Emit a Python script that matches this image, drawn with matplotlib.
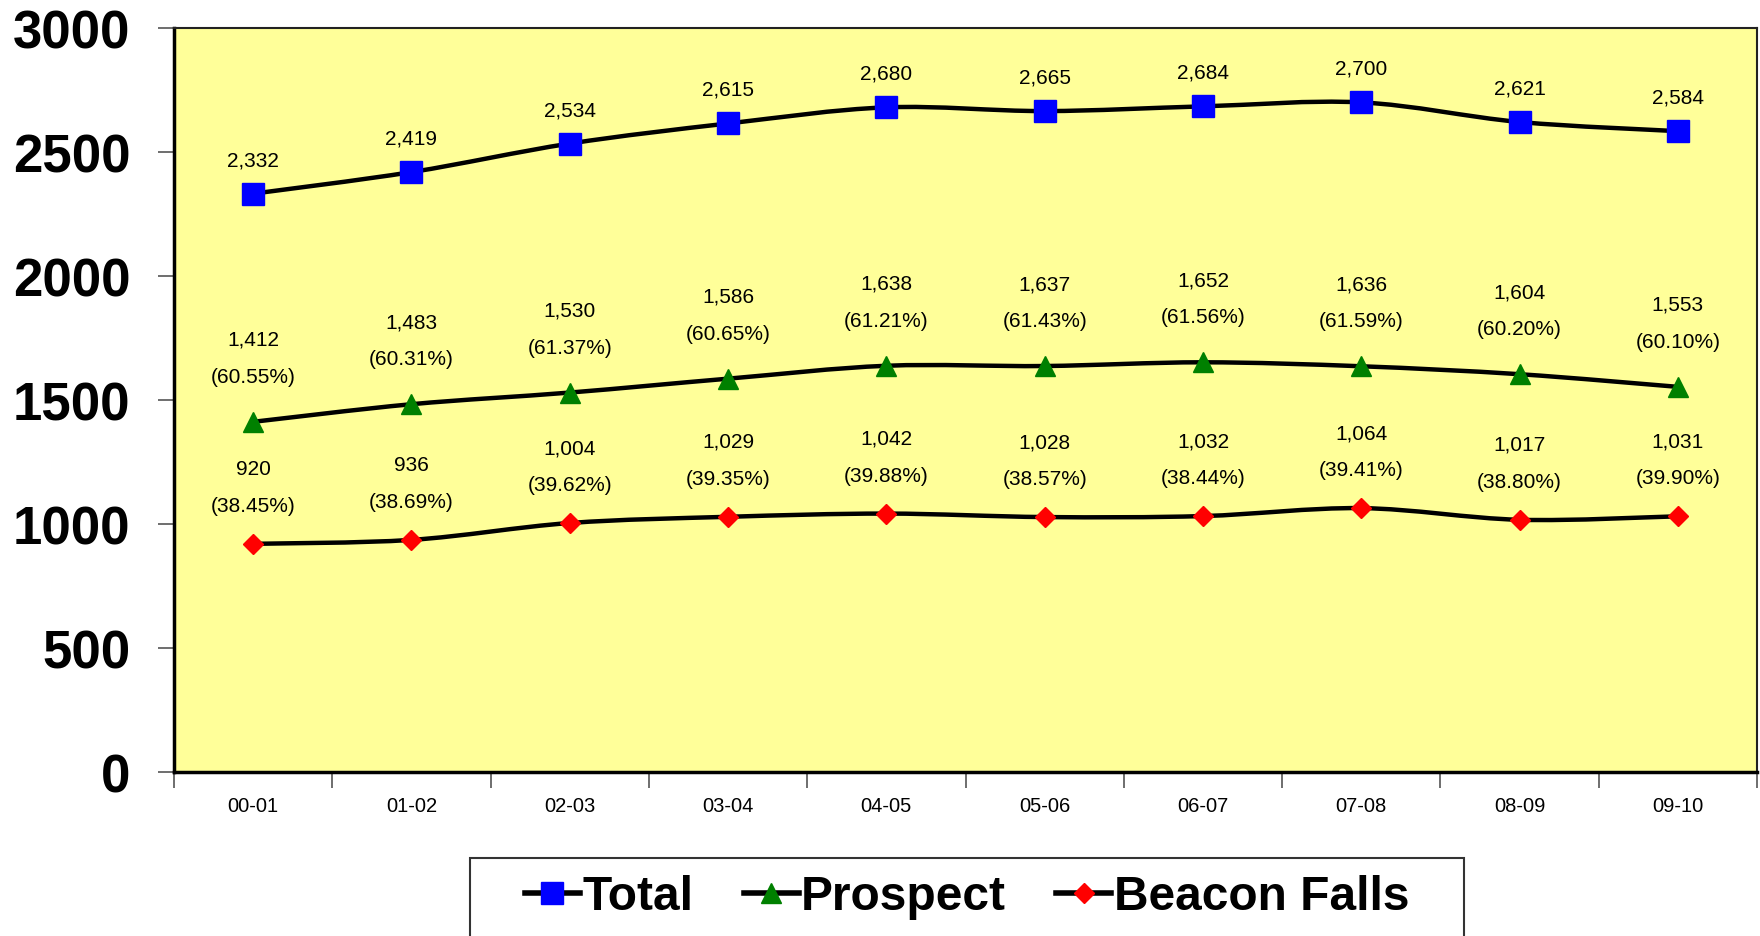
import matplotlib
matplotlib.use("Agg")
import matplotlib.pyplot as plt
import numpy as np
from matplotlib.path import Path
from matplotlib.patches import PathPatch, Rectangle
from matplotlib.lines import Line2D

plt.rcParams['font.family'] = ['Liberation Sans', 'DejaVu Sans']

years = ["00-01", "01-02", "02-03", "03-04", "04-05", "05-06", "06-07", "07-08", "08-09", "09-10"]
total = [2332, 2419, 2534, 2615, 2680, 2665, 2684, 2700, 2621, 2584]
prospect = [1412, 1483, 1530, 1586, 1638, 1637, 1652, 1636, 1604, 1553]
prospect_pct = ["60.55%", "60.31%", "61.37%", "60.65%", "61.21%", "61.43%", "61.56%", "61.59%", "60.20%", "60.10%"]
beacon = [920, 936, 1004, 1029, 1042, 1028, 1032, 1064, 1017, 1031]
beacon_pct = ["38.45%", "38.69%", "39.62%", "39.35%", "39.88%", "38.57%", "38.44%", "39.41%", "38.80%", "39.90%"]


def smooth_path(xs, ys):
    # Bezier segments like Excel's smoothed lines
    pts = np.column_stack([xs, ys]).astype(float)
    ext = np.vstack([pts[0], pts, pts[-1]])
    verts = [pts[0]]
    codes = [Path.MOVETO]
    for i in range(len(pts) - 1):
        p0, p1, p2, p3 = ext[i], ext[i + 1], ext[i + 2], ext[i + 3]
        verts += [p1 + (p2 - p0) / 6, p2 - (p3 - p1) / 6, p2]
        codes += [Path.CURVE4] * 3
    return Path(verts, codes)


fig = plt.figure(figsize=(17.6, 9.37), dpi=100)
ax = fig.add_axes([174 / 1760, 1 - 773 / 937, 1583 / 1760, 744 / 937])
ax.set_facecolor('#FFFF99')

x = np.arange(len(years))
series = [
    (total, 's', '#0000FF', 16.5, 'Total'),
    (prospect, '^', '#008000', 14, 'Prospect'),
    (beacon, 'D', '#FF0000', 10, 'Beacon Falls'),
]
for vals, mk, col, ms, name in series:
    ax.add_patch(PathPatch(smooth_path(x, vals), facecolor='none', edgecolor='black',
                           lw=3.2, zorder=3, capstyle='round'))
    ax.plot(x, vals, linestyle='none', marker=mk, color=col, ms=ms, zorder=4)

lab_fs = 15
for xi, v in zip(x, total):
    ax.annotate(f"{v:,}", (xi, v), xytext=(0, 34), textcoords='offset pixels',
                ha='center', va='center', fontsize=lab_fs)
for xi, v, p in zip(x, prospect, prospect_pct):
    ax.annotate(f"{v:,}\n({p})", (xi, v), xytext=(0, 40), textcoords='offset pixels',
                ha='center', va='baseline', fontsize=lab_fs, linespacing=2.2)
for xi, v, p in zip(x, beacon, beacon_pct):
    ax.annotate(f"{v:,}\n({p})", (xi, v), xytext=(0, 33), textcoords='offset pixels',
                ha='center', va='baseline', fontsize=lab_fs, linespacing=2.2)

ax.set_xlim(-0.5, len(years) - 0.5)
ax.set_ylim(0, 3000)
ax.set_yticks(np.arange(0, 3001, 500))
ax.set_yticklabels([str(t) for t in range(0, 3001, 500)], fontsize=38, fontweight='bold')
ax.set_xticks(np.arange(-0.5, len(years), 1))
ax.set_xticklabels([])
ax.set_xticks(x, minor=True)
ax.set_xticklabels(years, minor=True, fontsize=14.5)
ax.tick_params(axis='x', which='minor', length=0, pad=17)
ax.tick_params(axis='x', which='major', length=11.5, width=1.2, color='#555555')
ax.tick_params(axis='y', length=11.5, width=1.2, color='#555555', pad=20)

for side in ['left', 'bottom']:
    ax.spines[side].set_linewidth(2.5)
    ax.spines[side].set_color('black')
for side in ['top', 'right']:
    ax.spines[side].set_linewidth(1.5)
    ax.spines[side].set_color('#222222')

# legend box
fig.patches.append(Rectangle((470 / 1760, -0.05), 994 / 1760, 0.05 + 1 - 859 / 937,
                             transform=fig.transFigure, facecolor='white',
                             edgecolor='#333333', lw=1.5))
handles = [Line2D([], [], color='black', lw=4, marker=mk, ms=ms, mfc=col, mec=col)
           for _, mk, col, ms, _ in series]
fig.legend(handles, [s[4] for s in series], loc='center',
           bbox_to_anchor=(967 / 1760, 1 - 898 / 937), ncol=3, frameon=False,
           prop={'size': 34.5, 'weight': 'bold'}, handlelength=1.15,
           handletextpad=0.05, columnspacing=1.05)

fig.savefig('out.png', dpi=100)
